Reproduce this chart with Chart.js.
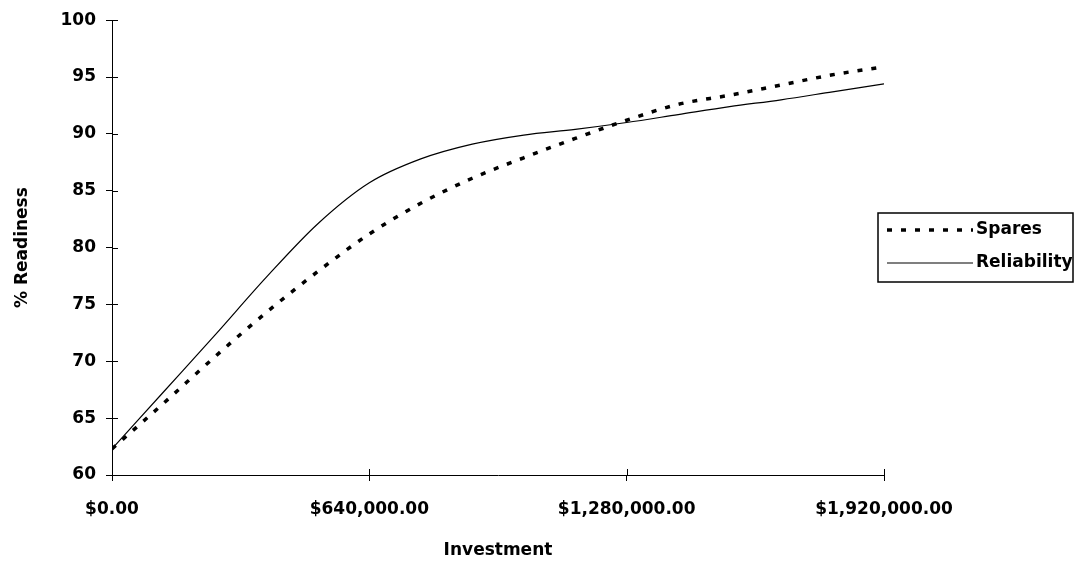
<!DOCTYPE html>
<html>
<head>
<meta charset="utf-8">
<script src="https://cdn.jsdelivr.net/npm/chart.js@4/dist/chart.umd.min.js"></script>
<style>
  html, body { margin: 0; padding: 0; background: #ffffff; }
  #wrap { width: 1075px; height: 561px; }
</style>
</head>
<body>
<div id="wrap"><canvas id="c" width="1075" height="561"></canvas></div>
<script>
// Investment levels (dollars)
const investment = [0, 128000, 256000, 384000, 512000, 640000, 768000, 896000, 1024000,
                    1152000, 1280000, 1408000, 1536000, 1664000, 1792000, 1920000];
// % Readiness by series
const spares      = [62.3, 66.3, 70.4, 74.3, 77.9, 81.2, 83.9, 86.1, 87.9,
                     89.6, 91.2, 92.6, 93.4, 94.3, 95.2, 95.9];
const reliability = [62.3, 67.3, 72.3, 77.4, 82.1, 85.7, 87.8, 89.1, 89.9,
                     90.4, 91.0, 91.7, 92.4, 93.0, 93.7, 94.4];
const seriesNames = ['Spares', 'Reliability'];
const xTickValues = [0, 640000, 1280000, 1920000];
const yTickValues = [60, 65, 70, 75, 80, 85, 90, 95, 100];
const xTitle = 'Investment';
const yTitle = '% Readiness';

const FONT = 'DejaVu Sans';
const fmtMoney = v => '$' + Number(v).toLocaleString('en-US', {minimumFractionDigits: 2, maximumFractionDigits: 2});

const toPts = arr => arr.map((v, i) => ({x: investment[i], y: v}));

// draws the inner half of each tick so ticks cross the axes
const crossTicks = {
  id: 'crossTicks',
  afterDraw(chart) {
    const ctx = chart.ctx;
    const xs = chart.scales.x, ys = chart.scales.y;
    ctx.save();
    ctx.strokeStyle = '#000';
    ctx.lineWidth = 1;
    ctx.beginPath();
    ys.ticks.forEach(t => {
      const py = Math.round(ys.getPixelForValue(t.value)) + 0.5;
      ctx.moveTo(ys.right, py); ctx.lineTo(ys.right + 6, py);
    });
    xs.ticks.forEach(t => {
      const px = Math.round(xs.getPixelForValue(t.value)) + 0.5;
      ctx.moveTo(px, xs.top); ctx.lineTo(px, xs.top - 6);
    });
    ctx.stroke();
    ctx.restore();
  }
};

// boxed legend to the right of the plot
const boxLegend = {
  id: 'boxLegend',
  afterDraw(chart) {
    const ctx = chart.ctx;
    const ca = chart.chartArea;
    const left = ca.right - 6, top = 213, w = 195, h = 69;
    ctx.save();
    ctx.fillStyle = '#fff';
    ctx.fillRect(left, top, w, h);
    const rows = [top + 17, top + 50];
    chart.data.datasets.forEach((ds, i) => {
      const y = rows[i];
      ctx.beginPath();
      ctx.strokeStyle = '#000';
      ctx.lineWidth = ds.borderWidth;
      ctx.setLineDash(ds.borderDash || []);
      ctx.moveTo(left + 9, y); ctx.lineTo(left + 95, y);
      ctx.stroke();
      ctx.setLineDash([]);
      ctx.fillStyle = '#000';
      ctx.font = 'bold 17px "' + FONT + '"';
      ctx.textBaseline = 'middle';
      ctx.fillText(ds.label, left + 98, y);
    });
    ctx.lineWidth = 1.5;
    ctx.strokeStyle = '#000';
    ctx.strokeRect(left, top, w, h);
    ctx.restore();
  }
};

new Chart(document.getElementById('c'), {
  type: 'line',
  data: {
    datasets: [
      {
        label: seriesNames[0],
        data: toPts(spares),
        borderColor: '#000',
        borderWidth: 3.5,
        borderDash: [5, 9],
        pointRadius: 0,
        cubicInterpolationMode: 'monotone',
        fill: false
      },
      {
        label: seriesNames[1],
        data: toPts(reliability),
        borderColor: '#000',
        borderWidth: 1.2,
        pointRadius: 0,
        cubicInterpolationMode: 'monotone',
        fill: false
      }
    ]
  },
  options: {
    responsive: false,
    animation: false,
    devicePixelRatio: 1,
    layout: { padding: { left: 0, right: 191, top: 16, bottom: 0 } },
    plugins: {
      legend: { display: false },
      tooltip: { enabled: false }
    },
    scales: {
      x: {
        type: 'linear',
        min: 0, max: 1920000,
        afterBuildTicks: s => { s.ticks = xTickValues.map(v => ({value: v})); },
        afterFit: s => { s.height = 86; },
        border: { display: true, color: '#000', width: 1 },
        grid: { display: true, drawOnChartArea: false, drawTicks: true, tickLength: 6, color: '#000' },
        ticks: {
          color: '#000',
          padding: 18,
          maxRotation: 0,
          autoSkip: false,
          font: { family: FONT, size: 17, weight: 'bold' },
          callback: v => fmtMoney(v)
        },
        title: {
          display: true, text: xTitle, color: '#000',
          padding: { top: 2, bottom: 0 },
          font: { family: FONT, size: 17, weight: 'bold' }
        }
      },
      y: {
        type: 'linear',
        min: 60, max: 100,
        afterBuildTicks: s => { s.ticks = yTickValues.map(v => ({value: v})); },
        afterFit: s => { s.width = 112; },
        border: { display: true, color: '#000', width: 1 },
        grid: { display: true, drawOnChartArea: false, drawTicks: true, tickLength: 6, color: '#000' },
        ticks: {
          color: '#000',
          padding: 10,
          autoSkip: false,
          font: { family: FONT, size: 17, weight: 'bold' }
        },
        title: {
          display: true, text: yTitle, color: '#000',
          padding: { top: 12, bottom: 0 },
          font: { family: FONT, size: 17, weight: 'bold' }
        }
      }
    }
  },
  plugins: [crossTicks, boxLegend]
});
</script>
</body>
</html>
